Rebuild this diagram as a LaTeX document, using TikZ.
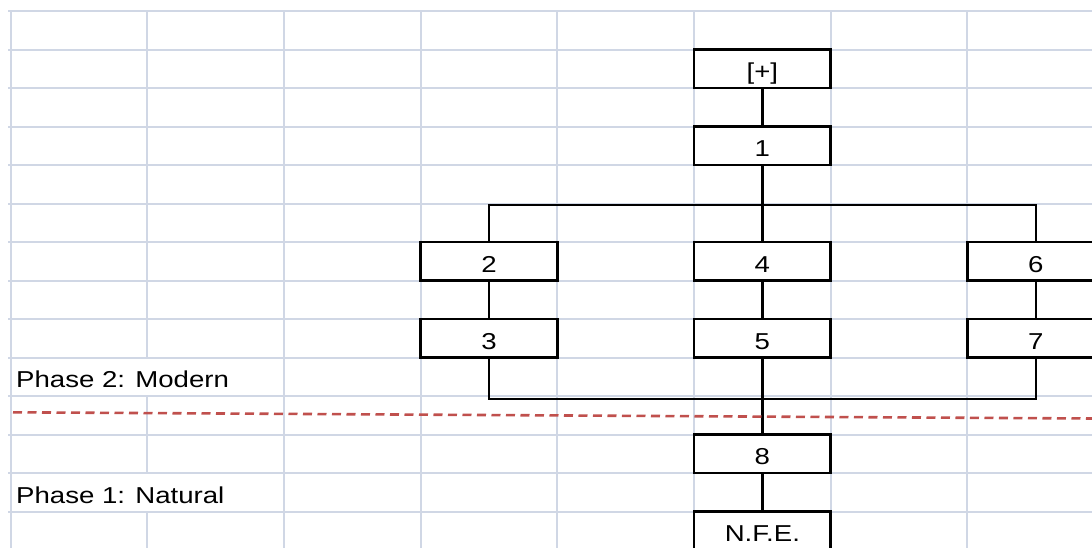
\documentclass[tikz,border=0pt]{standalone}
\usepackage{fontspec}
\setmainfont{Liberation Sans}
\definecolor{gridblue}{HTML}{D0D7E5}
\definecolor{dividerred}{HTML}{C0504D}
\newcommand{\widetxt}[1]{\scalebox{1.2}[1]{#1}}
\begin{document}
\begin{tikzpicture}[x=1pt,y=-1pt,
  gridline/.style={draw=gridblue, line width=2pt},
  cellbox/.style={draw=black, fill=white, line width=2.6pt, minimum width=136.7pt,
    inner sep=0pt, outer sep=0pt, text height=30pt, text depth=8.5pt, anchor=north west,
    font=\fontsize{23}{27}\selectfont},
  link/.style={draw=black, line width=2.5pt},
  phase/.style={anchor=base west, inner sep=0pt, font=\fontsize{23}{27}\selectfont},
  divider/.style={draw=dividerred, line width=2.6pt, dash pattern=on 9pt off 5.5pt}]
\clip (0,0) rectangle (1092,547);
\fill[white] (0,0) rectangle (1092,547);

% sheet grid
\foreach \y in {11,49.5,88,126.5,165,203.5,242,280.5,319,357.5,396,434.5,473,511.5,550}
  \draw[gridline] (8,\y) -- (1092,\y);
\foreach \x in {10.5,283.9,420.6,557.3,694,830.7,967.4}
  \draw[gridline] (\x,11) -- (\x,550);
% second column line is interrupted by the overflowing phase labels
\draw[gridline] (147.2,11) -- (147.2,357.5);
\draw[gridline] (147.2,396) -- (147.2,473);
\draw[gridline] (147.2,511.5) -- (147.2,550);

% boxes
\node[cellbox] (plus)  at (694,49.5)   {\widetxt{[+]}};
\node[cellbox] (one)   at (694,126.5)  {\widetxt{1}};
\node[cellbox] (two)   at (420.6,242)  {\widetxt{2}};
\node[cellbox] (four)  at (694,242)    {\widetxt{4}};
\node[cellbox] (six)   at (967.4,242)  {\widetxt{6}};
\node[cellbox] (three) at (420.6,319)  {\widetxt{3}};
\node[cellbox] (five)  at (694,319)    {\widetxt{5}};
\node[cellbox] (seven) at (967.4,319)  {\widetxt{7}};
\node[cellbox] (eight) at (694,434.5)  {\widetxt{8}};
\node[cellbox] (nfe)   at (694,511.5)  {\widetxt{N.F.E.}};

% connectors
\coordinate (toplvl) at (0,205);
\coordinate (botlvl) at (0,399);
\coordinate (jtop) at (one.south |- toplvl);
\coordinate (jbot) at (five.south |- botlvl);
\draw[link] (plus.south) -- (one.north);
\draw[link] (one.south) -- (four.north);
\draw[link] (two.north) |- (jtop) -| (six.north);
\draw[link] (two.south) -- (three.north);
\draw[link] (four.south) -- (five.north);
\draw[link] (six.south) -- (seven.north);
\draw[link] (three.south) |- (jbot) -| (seven.south);
\draw[link] (five.south) -- (eight.north);
\draw[link] (eight.south) -- (nfe.north);

% phase labels and divider
\node[phase] (p2) at (16,387.3) {\widetxt{Phase 2: Modern}};
\node[phase] (p1) at (16,503.3) {\widetxt{Phase 1: Natural}};
\coordinate (dl) at (13,412.3);
\coordinate (dr) at (1092,418.5);
\draw[divider] (dl) -- (dr);
\end{tikzpicture}
\end{document}
